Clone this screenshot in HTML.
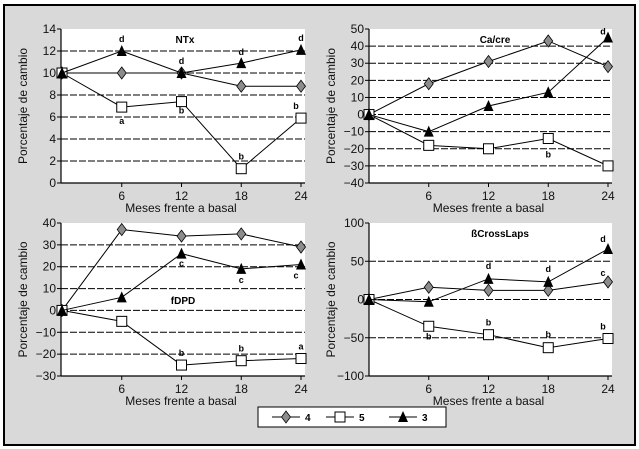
<!DOCTYPE html>
<html><head><meta charset="utf-8"><style>
html,body{margin:0;padding:0;background:#fff;}
svg{display:block;font-family:"Liberation Sans",sans-serif;}
</style></head><body>
<svg id="c" width="639" height="449" viewBox="0 0 639 449" xmlns="http://www.w3.org/2000/svg">
<rect x="4" y="5" width="631" height="440" fill="#d9d9d9" stroke="#000" stroke-width="2"/>
<g id="legend">
<rect x="258" y="407" width="188" height="20" fill="#fff" stroke="#000" stroke-width="1"/>
</g>
</svg>
<script>
const months=[0,6,12,18,24];
const xTicks=[6,12,18,24];
const ntxS4=[10,10,10,8.8,8.8];
const ntxS5=[10,6.9,7.4,1.3,5.9];
const ntxS3=[10,12,10,10.9,12.1];
const caS4=[0,18,31,43,28];
const caS5=[0,-18,-20,-14,-30];
const caS3=[0,-10,5,13,45];
const fdS4=[0,37,34,35,29];
const fdS5=[0,-5,-25,-23,-22];
const fdS3=[0,6,26,19,21];
const bcS4=[0,16,12,12,23];
const bcS5=[0,-35,-46,-63,-51];
const bcS3=[0,-3,27,23,66];
const ntxTicks=[0,2,4,6,8,10,12,14];
const caTicks=[-40,-30,-20,-10,0,10,20,30,40,50];
const fdTicks=[-30,-20,-10,0,10,20,30,40];
const bcTicks=[-100,-50,0,50,100];
const seriesNames=["4","5","3"];

const NS="http://www.w3.org/2000/svg";
const svg=document.getElementById('c');
function mk(t,a,p){const e=document.createElementNS(NS,t);for(const k in a)e.setAttribute(k,a[k]);(p||svg).appendChild(e);return e;}
function marker(g,kind,x,y){
  if(kind==="4"){const m=mk('path',{d:`M${x},${y-6}L${x+4.5},${y}L${x},${y+6}L${x-4.5},${y}Z`,fill:'#8c8c8c',stroke:'#000','stroke-width':0.8},g);}
  else if(kind==="5"){const m=mk('rect',{x:x-5,y:y-5,width:10,height:10,fill:'#fff',stroke:'#000','stroke-width':1},g);}
  else {const m=mk('path',{d:`M${x},${y-6}L${x+5},${y+5}L${x-5},${y+5}Z`,fill:'#000'},g);}
}
function panel(o){
  const g=mk('g',{});
  
  
  const min=o.ticks[0],max=o.ticks[o.ticks.length-1];
  const X=v=>o.x0+v*(o.x24-o.x0)/24;
  const Y=v=>o.bot-(v-min)/(max-min)*(o.bot-o.top);
  mk('rect',{x:o.left,y:o.top,width:o.x24+4-o.left,height:o.bot-o.top,fill:'#fff'},g);
  o.ticks.forEach(t=>{
    const y=Y(t);
    if(t!==min&&t!==max){const l=mk('line',{x1:o.left,x2:o.x24+4,y1:y,y2:y,stroke:'#000','stroke-width':1,'stroke-dasharray':'7,2'},g);}
    mk('line',{x1:o.left-4,x2:o.left,y1:y,y2:y,stroke:'#000'},g);
    const tx=mk('text',{x:o.left-5,y:y+4,'font-size':12,'text-anchor':'end',fill:'#111'},g);tx.textContent=String(t).replace('-','\u2212');
    
  });
  mk('line',{x1:o.left,x2:o.left,y1:o.top,y2:o.bot,stroke:'#000','stroke-width':1.2},g);
  mk('line',{x1:o.left,x2:o.x24+4,y1:o.bot,y2:o.bot,stroke:'#000','stroke-width':1.2},g);
  xTicks.forEach(t=>{
    const x=X(t);mk('line',{x1:x,x2:x,y1:o.bot,y2:o.bot+4,stroke:'#000'},g);
    const tx=mk('text',{x:x,y:o.bot+17,'font-size':12,'text-anchor':'middle',fill:'#111'},g);tx.textContent=t;
    
  });
  const xt=mk('text',{x:(o.left+o.x24)/2,y:o.bot+29,'font-size':12,'text-anchor':'middle',fill:'#111'},g);xt.textContent='Meses frente a basal';
  
  const cy=(o.top+o.bot)/2;
  const yt=mk('text',{x:o.left-34,y:cy,'font-size':12,'text-anchor':'middle',fill:'#111',transform:`rotate(-90 ${o.left-34} ${cy})`},g);yt.textContent='Porcentaje de cambio';
  
  const tt=mk('text',{x:o.tx,y:o.ty,'font-size':10,'font-weight':'bold','text-anchor':'middle'},g);tt.textContent=o.title;
  
  [[o.s4,"4"],[o.s5,"5"],[o.s3,"3"]].forEach(([s,k])=>{
    const pl=mk('polyline',{points:s.map((v,i)=>X(months[i])+','+Y(v)).join(' '),fill:'none',stroke:'#000','stroke-width':1},g);
    
    s.forEach((v,i)=>marker(g,k,X(months[i]),Y(v)));
  });
  o.notes.forEach(([m,v,txt,dy,dx])=>{
    const t=mk('text',{x:X(m)+(dx||0),y:Y(v)+dy,'font-size':9,'font-weight':'bold','text-anchor':'middle'},g);t.textContent=txt;
    
  });
}
panel({name:'ntx-panel',title:'NTx',tx:185,ty:43,left:61,x0:62,x24:301,top:29,bot:183,ticks:ntxTicks,s4:ntxS4,s5:ntxS5,s3:ntxS3,
 notes:[[6,12,'d',-9],[12,10,'d',-9],[18,10.9,'d',-8],[24,12.1,'d',-9],[6,6.9,'a',17],[12,7.4,'b',12],[18,1.3,'b',-9],[24,5.9,'b',-9,-5]]});
panel({name:'ca-cre-panel',title:'Ca/cre',tx:495,ty:43,left:369,x0:369,x24:608,top:29,bot:183,ticks:caTicks,s4:caS4,s5:caS5,s3:caS3,
 notes:[[24,45,'d',-3,-5],[18,-14,'b',19]]});
panel({name:'fdpd-panel',title:'fDPD',tx:183,ty:304,left:61,x0:62,x24:301,top:223,bot:376,ticks:fdTicks,s4:fdS4,s5:fdS5,s3:fdS3,
 notes:[[12,26,'c',13],[18,19,'c',14],[24,21,'c',14,-5],[12,-25,'b',-9],[18,-23,'b',-9],[24,-22,'a',-9]]});
panel({name:'bcrosslaps-panel',title:'\u00dfCrossLaps',tx:500,ty:237,left:369,x0:369,x24:608,top:223,bot:376,ticks:bcTicks,s4:bcS4,s5:bcS5,s3:bcS3,
 notes:[[12,27,'d',-10],[18,23,'d',-10],[24,66,'d',-7,-5],[24,23,'c',-6,-5],[6,-35,'b',13],[12,-46,'b',-9],[18,-63,'b',-10],[24,-51,'b',-9,-5]]});
const lg=document.getElementById('legend');
[[286,"4"],[340,"5"],[403,"3"]].forEach(([x,k],i)=>{
  const e=mk('g',{},lg);
  
  
  mk('line',{x1:x-14,x2:x+14,y1:417,y2:417,stroke:'#000'},e);
  marker(e,k,x,417);
  const t=mk('text',{x:x+19,y:421,'font-size':10,'font-weight':'bold'},e);t.textContent=seriesNames[i];
});
</script>
</body></html>
